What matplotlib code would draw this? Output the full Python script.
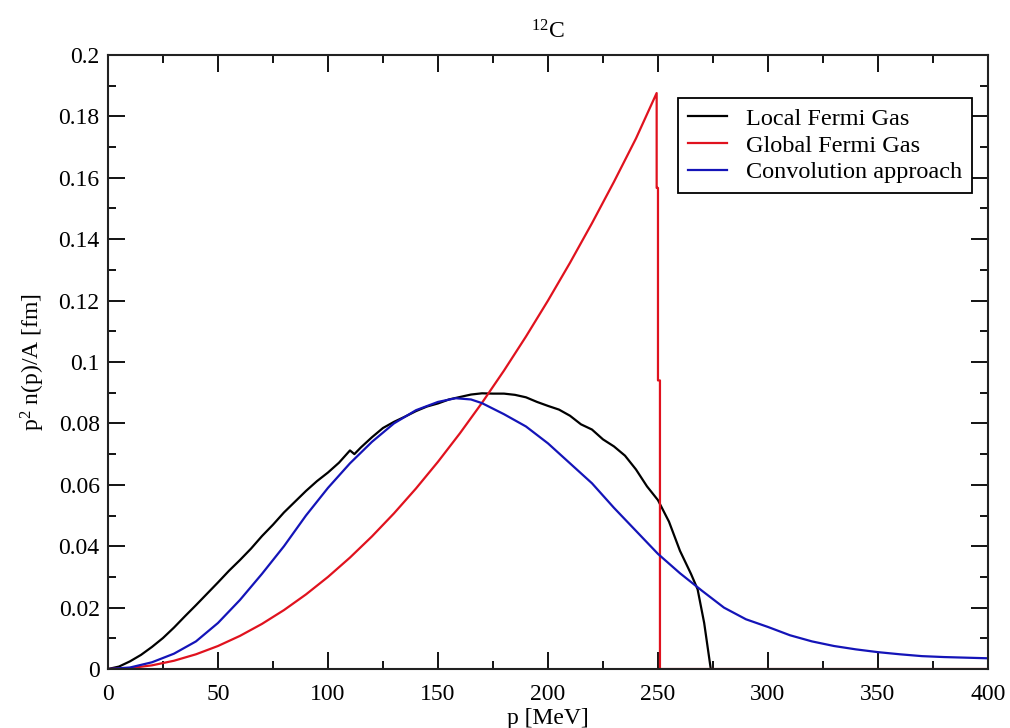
import numpy as np
import matplotlib.pyplot as plt
from matplotlib.ticker import MultipleLocator

plt.rcParams['font.family'] = ['Liberation Serif', 'DejaVu Serif']
plt.rcParams['mathtext.default'] = 'regular'

# Local Fermi Gas
p_lfg = [0, 5, 10, 15, 20, 25, 30, 35, 40, 45, 50, 55, 60, 65, 70, 75, 80, 85, 90, 95,
         100, 105, 110, 112, 115, 120, 125, 130, 135, 140, 145, 150, 155, 160, 165, 170,
         175, 180, 185, 190, 195, 200, 205, 210, 215, 220, 225, 230, 235, 240, 245, 250,
         255, 260, 265, 268, 271, 274]
n_lfg = [0, 0.0008, 0.0025, 0.0046, 0.0072, 0.0101, 0.0135, 0.0172, 0.0208, 0.0245,
         0.0282, 0.0320, 0.0355, 0.0392, 0.0433, 0.0470, 0.0510, 0.0545, 0.0580, 0.0612,
         0.0640, 0.0672, 0.0712, 0.0700, 0.0722, 0.0755, 0.0785, 0.0805, 0.0822, 0.0840,
         0.0855, 0.0865, 0.0878, 0.0886, 0.0894, 0.0898, 0.0897, 0.0897, 0.0893, 0.0885,
         0.0870, 0.0857, 0.0845, 0.0825, 0.0797, 0.0780, 0.0748, 0.0725, 0.0695, 0.0650,
         0.0595, 0.0550, 0.0480, 0.0385, 0.0310, 0.0260, 0.0150, 0.0]

# Global Fermi Gas
p_gfg = [0, 10, 20, 30, 40, 50, 60, 70, 80, 90, 100, 110, 120, 130, 140, 150, 160, 170,
         180, 190, 200, 210, 220, 230, 240, 249.4, 249.4, 250.0, 250.0, 250.9, 250.9, 400]
n_gfg = [0, 0.0003, 0.0012, 0.0027, 0.0048, 0.0075, 0.0108, 0.0147, 0.0192, 0.0243,
         0.0300, 0.0363, 0.0432, 0.0507, 0.0588, 0.0675, 0.0768, 0.0867, 0.0972, 0.1083,
         0.1200, 0.1323, 0.1452, 0.1587, 0.1728, 0.1876, 0.1567, 0.1567, 0.0940, 0.0940,
         0.0, 0.0]

# Convolution approach
p_conv = [0, 10, 20, 30, 40, 50, 60, 70, 80, 90, 100, 110, 120, 130, 140, 150, 158, 165,
          170, 180, 190, 200, 210, 220, 230, 240, 250, 260, 270, 280, 290, 300, 310, 320,
          330, 340, 350, 360, 370, 380, 390, 400]
n_conv = [0, 0.0005, 0.0022, 0.0050, 0.0090, 0.0150, 0.0225, 0.0310, 0.0400, 0.0500,
          0.0590, 0.0670, 0.0740, 0.0800, 0.0843, 0.0870, 0.0882, 0.0878, 0.0866, 0.0830,
          0.0790, 0.0735, 0.0670, 0.0605, 0.0525, 0.0450, 0.0375, 0.0312, 0.0255, 0.0200,
          0.0162, 0.0137, 0.0110, 0.0090, 0.0075, 0.0064, 0.0055, 0.0048, 0.0042, 0.0039,
          0.0037, 0.0035]

fig = plt.figure(figsize=(10.1, 7.28), dpi=100)
ax = fig.add_axes([0.1069, 0.081, 0.8713, 0.8435])

ax.plot(p_lfg, n_lfg, color='black', lw=1.6, label='Local Fermi Gas')
ax.plot(p_gfg, n_gfg, color='#e0121e', lw=1.6, label='Global Fermi Gas')
ax.plot(p_conv, n_conv, color='#1414b8', lw=1.6, label='Convolution approach')

ax.set_xlim(0, 400)
ax.set_ylim(0, 0.2)
ax.xaxis.set_major_locator(MultipleLocator(50))
ax.xaxis.set_minor_locator(MultipleLocator(25))
ax.yaxis.set_minor_locator(MultipleLocator(0.01))
ax.set_yticks(np.arange(0, 0.201, 0.02))
ax.set_yticklabels(['0', '0.02', '0.04', '0.06', '0.08', '0.1', '0.12', '0.14',
                    '0.16', '0.18', '0.2'])
ax.tick_params(which='both', direction='in', top=True, right=True,
               labelsize=17, width=1.3)
ax.tick_params(axis='x', which='both', pad=11)
ax.tick_params(axis='y', which='both', pad=6)
ax.tick_params(which='major', length=12)
ax.tick_params(which='minor', length=6)
for s in ax.spines.values():
    s.set_linewidth(1.5)
    s.set_color('#222222')

ax.set_title('$^{12}$C', fontsize=17, pad=12)
ax.set_xlabel('p [MeV]', fontsize=17, labelpad=2)
ax.set_ylabel('p$^{2}$ n(p)/A [fm]', fontsize=17, labelpad=8)

leg = ax.legend(loc='upper right', bbox_to_anchor=(0.982, 0.930), fontsize=17.5,
                fancybox=False, framealpha=1, edgecolor='black',
                handlelength=1.6, handletextpad=0.8, borderpad=0.4,
                labelspacing=0.2, borderaxespad=0)
leg.get_frame().set_linewidth(1.3)

fig.savefig('out.png', dpi=100)
